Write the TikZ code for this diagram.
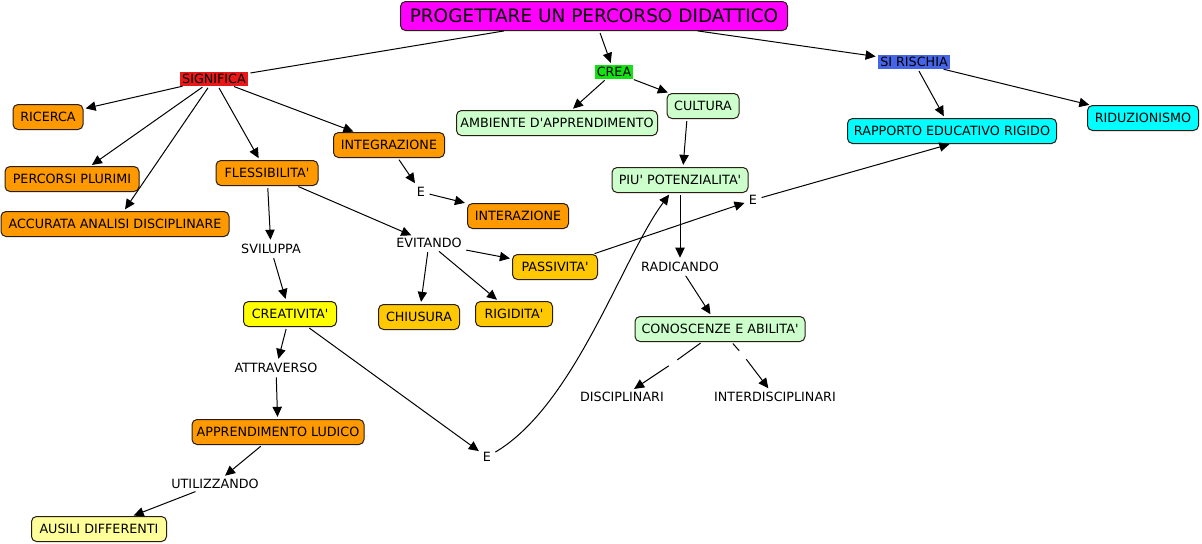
\documentclass[tikz,border=0pt]{standalone}
\usepackage{fontspec}
\setmainfont{DejaVu Sans}
\usetikzlibrary{arrows.meta,calc}
\newcommand{\qs}{\textquotesingle}
\definecolor{mag}{RGB}{255,0,255}
\definecolor{org}{RGB}{255,153,0}
\definecolor{gold}{RGB}{255,200,0}
\definecolor{yel}{RGB}{255,255,0}
\definecolor{lyel}{RGB}{255,255,153}
\definecolor{lgreen}{RGB}{204,255,204}
\definecolor{cyanb}{RGB}{0,255,255}
\definecolor{sigred}{RGB}{232,24,24}
\definecolor{creag}{RGB}{20,225,20}
\definecolor{risblue}{RGB}{70,100,230}
\definecolor{edge}{RGB}{40,30,20}
\begin{document}
\begin{tikzpicture}[x=0.75pt,y=-0.75pt,
  every node/.style={font=\fontsize{9.55}{11}\selectfont, text=black, text height=6.9pt, text depth=0pt},
  box/.style={draw=edge, line width=0.75pt, rounded corners=3.75pt, inner sep=0pt, outer sep=0pt, minimum height=18.75pt, minimum width=#1*0.75pt},
  lab/.style={inner xsep=1.5pt, inner ysep=1.5pt, outer sep=0pt},
  gap/.style={inner sep=0pt, text height=0pt, text depth=0pt, minimum size=6pt},
  conn/.style={line width=0.75pt, -{Triangle[length=7.5pt,width=7pt]}, shorten >=2pt, shorten <=2pt},
  plain/.style={line width=0.75pt, shorten >=2pt, shorten <=2pt}]
\fill[white] (0,0) rectangle (1202,543);
\path[use as bounding box] (0,0) rectangle (1202,543);

% concepts and linking phrases
\node[box=387, fill=mag, minimum height=21.75pt, font=\fontsize{13.85}{16}\selectfont, text height=10pt] (title) at (594,16) {PROGETTARE UN PERCORSO DIDATTICO};
\node[lab, fill=sigred] (sig) at (214,79) {SIGNIFICA};
\node[lab, fill=creag] (crea) at (614,72) {CREA};
\node[lab, fill=risblue] (ris) at (914,62) {SI RISCHIA};
\node[box=70, fill=org] (ric) at (48,117) {RICERCA};
\node[box=134, fill=org] (perc) at (72,179) {PERCORSI PLURIMI};
\node[box=228, fill=org] (acc) at (115,224) {ACCURATA ANALISI DISCIPLINARE};
\node[box=102, fill=org] (fle) at (267,173) {FLESSIBILITA\qs};
\node[box=111, fill=org] (int) at (389,145) {INTEGRAZIONE};
\node[lab] (e1) at (421,192) {E};
\node[box=101, fill=org] (inter) at (518,216) {INTERAZIONE};
\node[lab] (evi) at (429,243) {EVITANDO};
\node[box=85, fill=gold] (pas) at (555,267) {PASSIVITA\qs};
\node[box=81, fill=gold] (chi) at (419,317) {CHIUSURA};
\node[box=77, fill=gold] (rig) at (514,314) {RIGIDITA\qs};
\node[lab] (svi) at (271,249) {SVILUPPA};
\node[box=93, fill=yel] (cre) at (290,314) {CREATIVITA\qs};
\node[lab] (att) at (276,368) {ATTRAVERSO};
\node[box=172, fill=org] (lud) at (278,432) {APPRENDIMENTO LUDICO};
\node[lab] (uti) at (215,484) {UTILIZZANDO};
\node[box=135, fill=lyel] (aus) at (99,529) {AUSILI DIFFERENTI};
\node[lab] (e2) at (487,457) {E};
\node[box=201, fill=lgreen] (amb) at (557,123) {AMBIENTE D\qs APPRENDIMENTO};
\node[box=72, fill=lgreen] (cul) at (703,106) {CULTURA};
\node[box=136, fill=lgreen] (piu) at (680,180) {PIU\qs{} POTENZIALITA\qs};
\node[lab] (e3) at (753,200) {E};
\node[lab] (rad) at (680,267) {RADICANDO};
\node[box=170, fill=lgreen] (con) at (720,329) {CONOSCENZE E ABILITA\qs};
\node[lab] (dis) at (622,397) {DISCIPLINARI};
\node[lab] (idis) at (775,397) {INTERDISCIPLINARI};
\node[box=209, fill=cyanb] (rap) at (952,131) {RAPPORTO EDUCATIVO RIGIDO};
\node[box=111, fill=cyanb] (rid) at (1143,118) {RIDUZIONISMO};
\node[gap] (g1) at (673,363) {};
\node[gap] (g2) at (743,355) {};

% connectors
\draw[plain] (title) -- (sig);
\draw[conn] (title) -- (crea);
\draw[conn] (title) -- (ris);
\draw[conn] (sig) -- (ric);
\draw[conn] (sig) -- (perc);
\draw[conn] (sig) -- (acc);
\draw[conn] (sig) -- (fle);
\draw[conn] (sig) -- (int);
\draw[conn] (fle) -- (svi);
\draw[conn] (fle) -- (evi);
\draw[conn] (int) -- (e1);
\draw[conn] (e1) -- (inter);
\draw[conn] (evi) -- (pas);
\draw[conn] (evi) -- (chi);
\draw[conn] (evi) -- (rig);
\draw[conn] (svi) -- (cre);
\draw[conn] (cre) -- (att);
\draw[conn] (cre) -- (e2);
\draw[conn] (att) -- (lud);
\draw[conn] (lud) -- (uti);
\draw[conn] (uti) -- (aus);
\draw[conn] (e2) .. controls (575,405) and (622,258) .. (piu);
\draw[conn] (crea) -- (amb);
\draw[conn] (crea) -- (cul);
\draw[conn] ($(cul.south)+(-16,0)$) -- ($(piu.north)+(3,0)$);
\draw[conn] (piu) -- (rad);
\draw[conn] (rad) -- (con);
\draw[plain, shorten >=0pt] (con) -- (g1);
\draw[conn, shorten <=0pt] (g1) -- (dis);
\draw[plain, shorten >=0pt] (con) -- (g2);
\draw[conn, shorten <=0pt] (g2) -- (idis);
\draw[conn] (pas) -- (e3);
\draw[conn] (e3) -- (rap.south);
\draw[conn] (ris) -- (rap);
\draw[conn] (ris) -- (rid);
\end{tikzpicture}
\end{document}
